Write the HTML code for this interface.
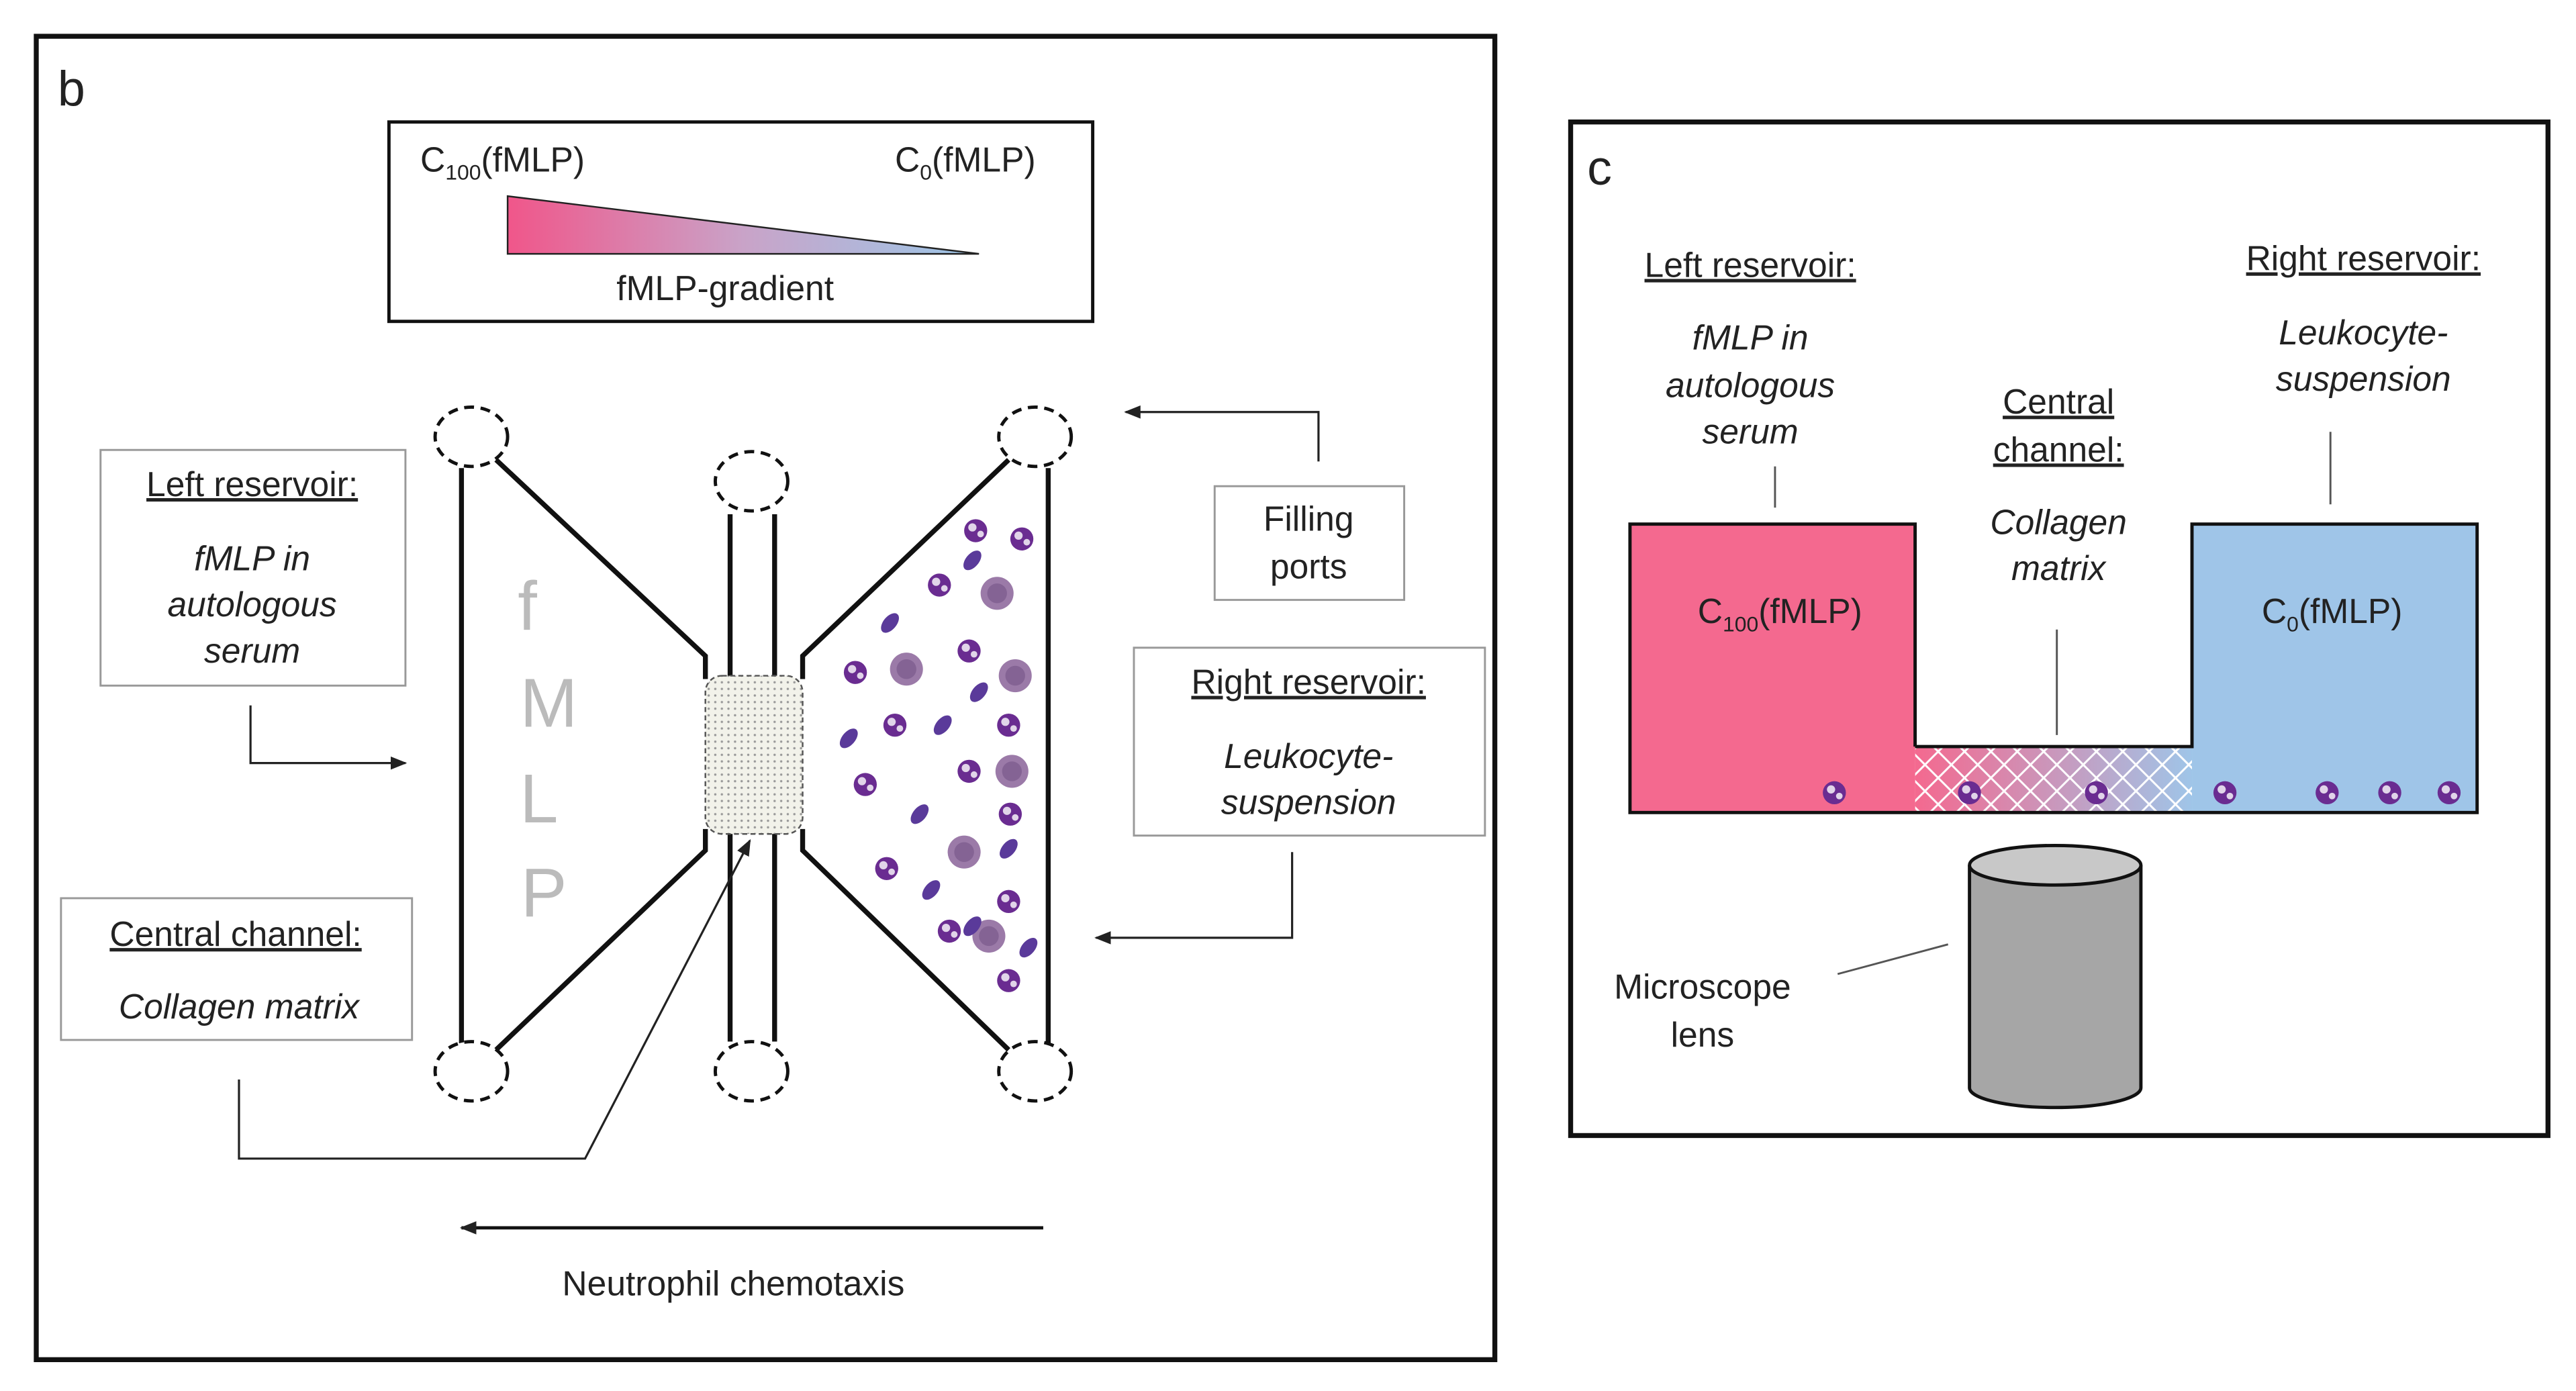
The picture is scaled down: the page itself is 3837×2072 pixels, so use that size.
<!DOCTYPE html>
<html><head><meta charset="utf-8"><style>
html,body{margin:0;padding:0;background:#fff;}
svg{display:block;}
text{font-family:"Liberation Sans",Arial,sans-serif;font-size:21px;fill:#222;}
.i{font-style:italic;}
</style></head><body>
<svg width="3837" height="2072" viewBox="0 0 1563 844" xmlns="http://www.w3.org/2000/svg">
<defs>
<linearGradient id="g1" x1="0" x2="1" y1="0" y2="0"><stop offset="0" stop-color="#f0568a"/><stop offset="0.5" stop-color="#c9a3c8"/><stop offset="1" stop-color="#9cc7e8"/></linearGradient>
<linearGradient id="g2" x1="0" x2="1" y1="0" y2="0"><stop offset="0" stop-color="#f4698f"/><stop offset="1" stop-color="#9fc5e8"/></linearGradient>
<pattern id="dots" width="4" height="4" patternUnits="userSpaceOnUse"><rect width="4" height="4" fill="#f2f2ea"/><circle cx="2" cy="2" r="0.7" fill="#999"/></pattern>
<pattern id="hatch" width="16" height="16" patternUnits="userSpaceOnUse"><path d="M0 0L16 16M16 0L0 16" stroke="#fff" stroke-width="1.2" fill="none"/></pattern>
<marker id="ar" markerWidth="10" markerHeight="8" refX="9" refY="4" orient="auto" markerUnits="userSpaceOnUse"><path d="M0 0L10 4L0 8z" fill="#222"/></marker>
<g id="cell"><circle r="7" fill="#6a2c91"/><circle cx="-2" cy="-2" r="2.5" fill="#fff" opacity="0.8"/><circle cx="3" cy="2" r="2" fill="#fff" opacity="0.8"/></g>
<g id="big"><circle r="10" fill="#9b7aa8"/><circle r="6" fill="#7a5a8c" opacity="0.7"/></g>
<g id="rbc"><ellipse rx="4" ry="7" fill="#5a3a9a" transform="rotate(40)"/></g>
</defs>

<!-- Panel b -->
<rect x="22" y="22" width="885" height="803" fill="none" stroke="#111" stroke-width="3"/>
<text x="35" y="64" style="font-size:30px">b</text>
<rect x="236" y="74" width="427" height="121" fill="none" stroke="#111" stroke-width="2"/>
<text x="255" y="104">C<tspan style="font-size:13px" dy="5">100</tspan><tspan dy="-5">(fMLP)</tspan></text>
<text x="543" y="104">C<tspan style="font-size:13px" dy="5">0</tspan><tspan dy="-5">(fMLP)</tspan></text>
<polygon points="308,119 308,154 594,154" fill="url(#g1)" stroke="#222" stroke-width="1"/>
<text x="440" y="182" text-anchor="middle">fMLP-gradient</text>

<!-- chip -->
<g fill="none" stroke="#111" stroke-width="3">
<path d="M280 284V633M301 279L428 398V412M301 637L428 516V503"/>
<path d="M443 312V412M470 312V412M443 505V632M470 505V632"/>
<path d="M636 284V633M612 279L487 398V412M612 637L487 516V503"/>
</g>
<rect x="428" y="410" width="59" height="96" rx="10" fill="url(#dots)" stroke="#555" stroke-width="1" stroke-dasharray="3,2"/>
<g fill="#fff" stroke="#111" stroke-width="2" stroke-dasharray="6,4">
<ellipse cx="286" cy="265" rx="22" ry="18"/><ellipse cx="286" cy="650" rx="22" ry="18"/>
<ellipse cx="456" cy="292" rx="22" ry="18"/><ellipse cx="456" cy="650" rx="22" ry="18"/>
<ellipse cx="628" cy="265" rx="22" ry="18"/><ellipse cx="628" cy="650" rx="22" ry="18"/>
</g>
<g style="font-size:42px;fill:#bbb" text-anchor="middle">
<text x="320" y="382" style="font-size:42px;fill:#bbb">f</text>
<text x="333" y="441" style="font-size:42px;fill:#bbb">M</text>
<text x="327" y="499" style="font-size:42px;fill:#bbb">L</text>
<text x="330" y="556" style="font-size:42px;fill:#bbb">P</text>
</g>
<!-- cells -->
<use href="#cell" x="592" y="322"/><use href="#cell" x="620" y="327"/><use href="#rbc" x="590" y="340"/>
<use href="#cell" x="570" y="355"/><use href="#big" x="605" y="360"/><use href="#rbc" x="540" y="378"/>
<use href="#cell" x="588" y="395"/><use href="#cell" x="519" y="408"/><use href="#big" x="550" y="406"/><use href="#big" x="616" y="410"/>
<use href="#rbc" x="594" y="420"/><use href="#cell" x="543" y="440"/><use href="#rbc" x="572" y="440"/><use href="#cell" x="612" y="440"/>
<use href="#rbc" x="515" y="448"/><use href="#cell" x="588" y="468"/><use href="#big" x="614" y="468"/><use href="#cell" x="525" y="476"/>
<use href="#rbc" x="558" y="494"/><use href="#cell" x="613" y="494"/><use href="#big" x="585" y="517"/><use href="#rbc" x="612" y="515"/>
<use href="#cell" x="538" y="527"/><use href="#rbc" x="565" y="540"/><use href="#cell" x="612" y="547"/><use href="#cell" x="576" y="565"/>
<use href="#big" x="600" y="568"/><use href="#rbc" x="624" y="575"/><use href="#cell" x="612" y="595"/><use href="#rbc" x="590" y="562"/>

<!-- labels b -->
<g fill="none" stroke="#999" stroke-width="1.2">
<rect x="61" y="273" width="185" height="143"/>
<rect x="37" y="545" width="213" height="86"/>
<rect x="737" y="295" width="115" height="69"/>
<rect x="688" y="393" width="213" height="114"/>
</g>
<text x="153" y="301" text-anchor="middle" text-decoration="underline">Left reservoir:</text>
<text class="i" x="153" y="346" text-anchor="middle">fMLP in</text>
<text class="i" x="153" y="374" text-anchor="middle">autologous</text>
<text class="i" x="153" y="402" text-anchor="middle">serum</text>
<text x="143" y="574" text-anchor="middle" text-decoration="underline">Central channel:</text>
<text class="i" x="145" y="618" text-anchor="middle">Collagen matrix</text>
<text x="794" y="322" text-anchor="middle">Filling</text>
<text x="794" y="351" text-anchor="middle">ports</text>
<text x="794" y="421" text-anchor="middle" text-decoration="underline">Right reservoir:</text>
<text class="i" x="794" y="466" text-anchor="middle">Leukocyte-</text>
<text class="i" x="794" y="494" text-anchor="middle">suspension</text>
<g fill="none" stroke="#222" stroke-width="1.3" marker-end="url(#ar)">
<path d="M152 428V463H246"/>
<path d="M145 655V703H355L455 510"/>
<path d="M800 280V250H683"/>
<path d="M784 517V569H665"/>
</g>
<path d="M633 745H280" stroke="#111" stroke-width="2" marker-end="url(#ar)"/>
<text x="445" y="786" text-anchor="middle">Neutrophil chemotaxis</text>

<!-- Panel c -->
<rect x="953" y="74" width="593" height="615" fill="none" stroke="#111" stroke-width="3"/>
<text x="963" y="112" style="font-size:30px">c</text>
<rect x="1162" y="453" width="168" height="40" fill="url(#g2)"/>
<rect x="1162" y="453" width="168" height="40" fill="url(#hatch)"/>
<path d="M989 318H1162V493H989Z" fill="#f4698f"/>
<path d="M1330 318H1503V493H1330Z" fill="#9fc5e8"/>
<path d="M1162 453V318H989V493H1503V318H1330V453H1162" fill="none" stroke="#111" stroke-width="2"/>
<text x="1080" y="378" text-anchor="middle">C<tspan style="font-size:13px" dy="5">100</tspan><tspan dy="-5">(fMLP)</tspan></text>
<text x="1415" y="378" text-anchor="middle">C<tspan style="font-size:13px" dy="5">0</tspan><tspan dy="-5">(fMLP)</tspan></text>
<use href="#cell" x="1113" y="481"/><use href="#cell" x="1195" y="481"/><use href="#cell" x="1272" y="481"/>
<use href="#cell" x="1350" y="481"/><use href="#cell" x="1412" y="481"/><use href="#cell" x="1450" y="481"/><use href="#cell" x="1486" y="481"/>
<text x="1062" y="168" text-anchor="middle" text-decoration="underline">Left reservoir:</text>
<text class="i" x="1062" y="212" text-anchor="middle">fMLP in</text>
<text class="i" x="1062" y="241" text-anchor="middle">autologous</text>
<text class="i" x="1062" y="269" text-anchor="middle">serum</text>
<text x="1249" y="251" text-anchor="middle" text-decoration="underline">Central</text>
<text x="1249" y="280" text-anchor="middle" text-decoration="underline">channel:</text>
<text class="i" x="1249" y="324" text-anchor="middle">Collagen</text>
<text class="i" x="1249" y="352" text-anchor="middle">matrix</text>
<text x="1434" y="164" text-anchor="middle" text-decoration="underline">Right reservoir:</text>
<text class="i" x="1434" y="209" text-anchor="middle">Leukocyte-</text>
<text class="i" x="1434" y="237" text-anchor="middle">suspension</text>
<g stroke="#555" stroke-width="1.2">
<path d="M1077 283V308M1248 382V446M1414 262V306M1115 591L1182 573"/>
</g>
<path d="M1195 525V660A52 12 0 0 0 1299 660V525" fill="#a6a6a6" stroke="#111" stroke-width="2"/>
<ellipse cx="1247" cy="525" rx="52" ry="12" fill="#c8c8c8" stroke="#111" stroke-width="2"/>
<text x="1033" y="606" text-anchor="middle">Microscope</text>
<text x="1033" y="635" text-anchor="middle">lens</text>
</svg>
</body></html>
